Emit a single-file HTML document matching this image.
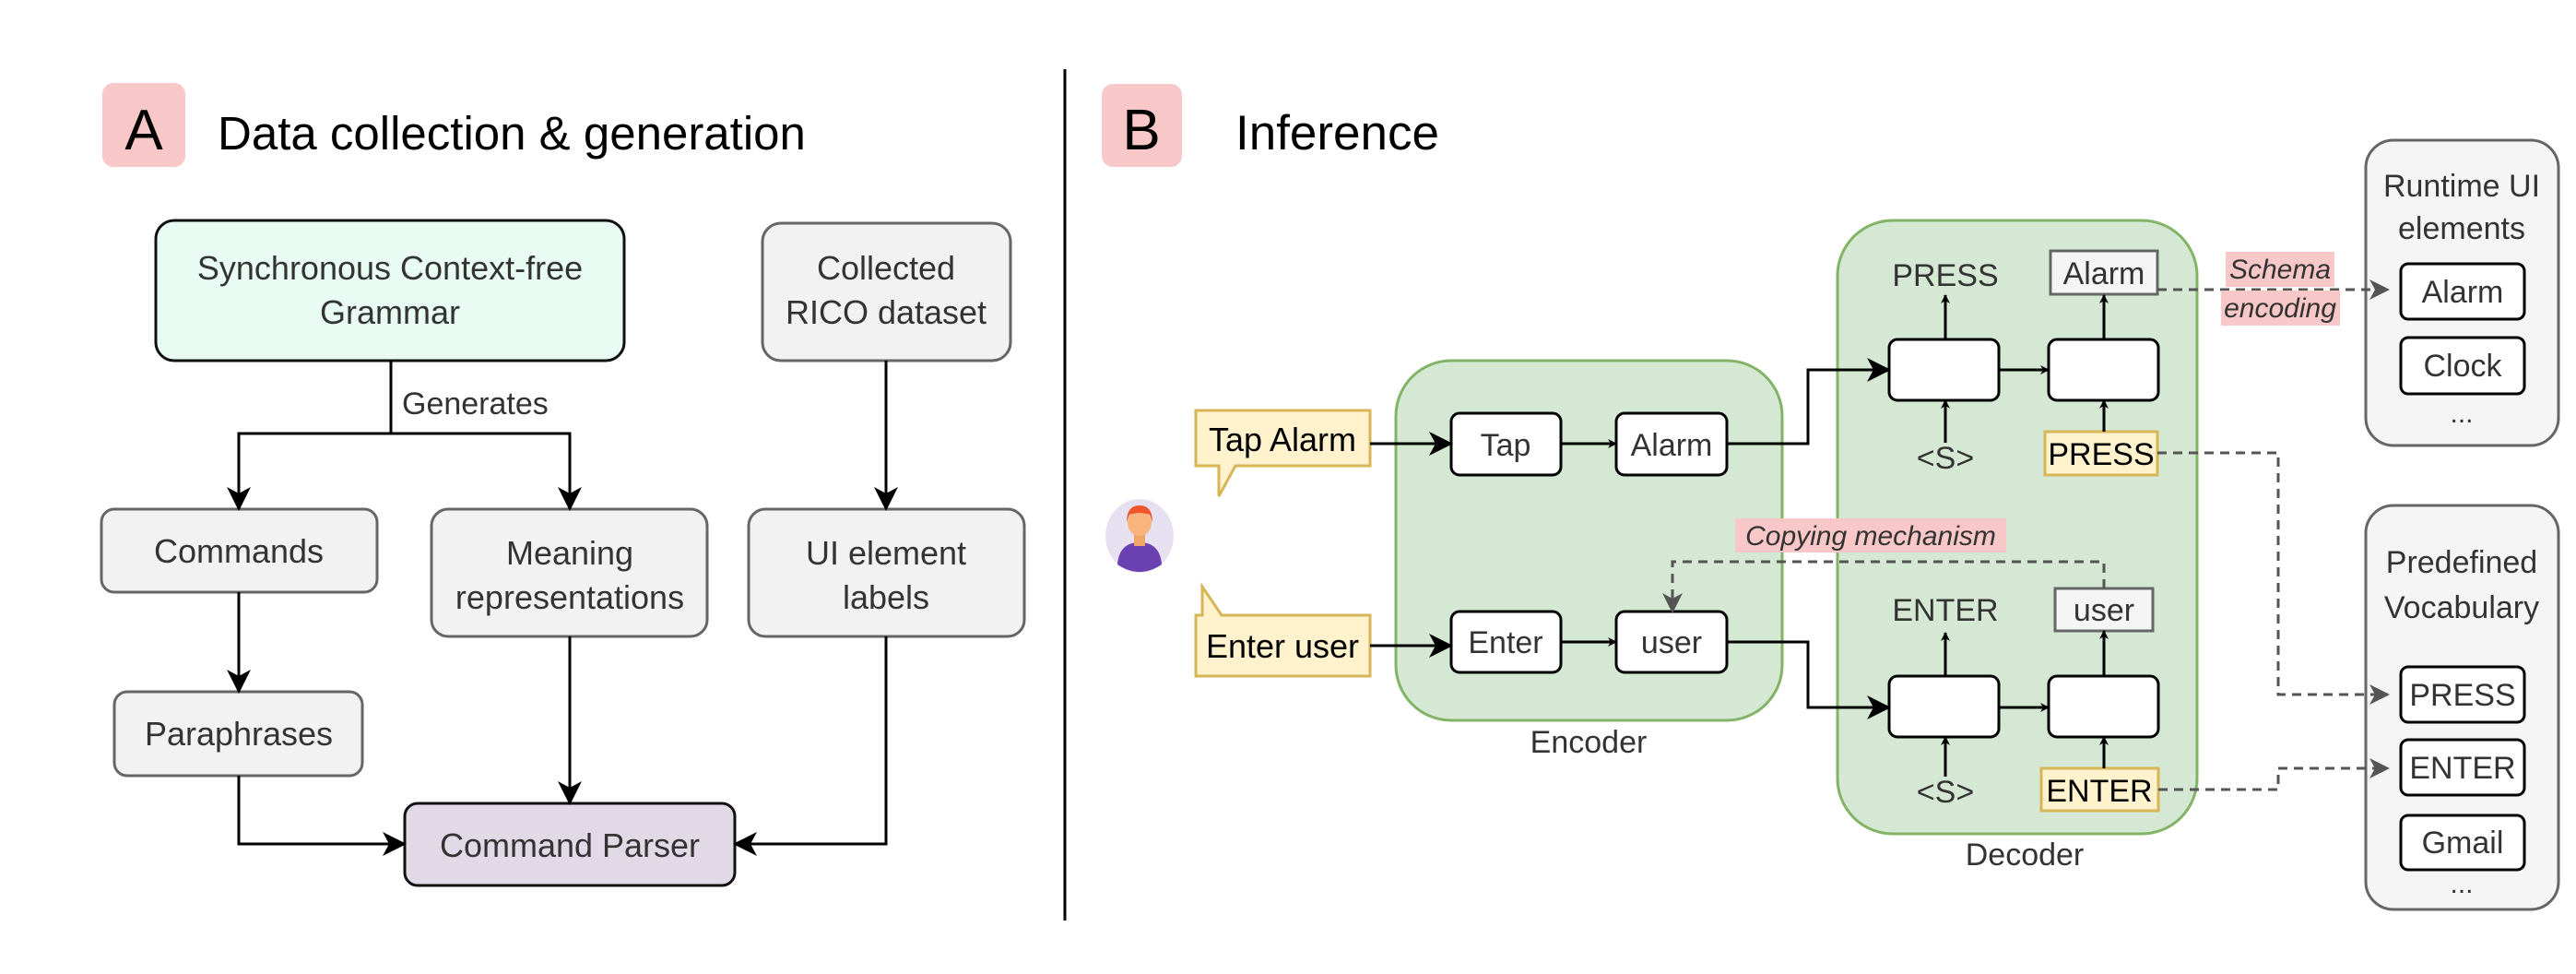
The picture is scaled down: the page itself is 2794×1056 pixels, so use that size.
<!DOCTYPE html>
<html><head><meta charset="utf-8"><style>
html,body{margin:0;padding:0;background:#fff;}
svg{display:block;}
text{font-family:"Liberation Sans",sans-serif;}
</style></head><body>
<svg width="2794" height="1056" viewBox="0 0 2794 1056" xmlns="http://www.w3.org/2000/svg">
<defs>
<marker id="ab" markerWidth="10" markerHeight="10" refX="9" refY="5" orient="auto" markerUnits="userSpaceOnUse" viewBox="0 0 10 10"><path d="M0,0 L10,5 L0,10 L3,5 z" fill="#000"/></marker>
<marker id="abL" markerWidth="26" markerHeight="26" refX="24" refY="13" orient="auto" markerUnits="userSpaceOnUse" viewBox="0 0 26 26"><path d="M0,0 L26,13 L0,26 L7,13 z" fill="#000"/></marker>
<marker id="ag" markerWidth="22" markerHeight="22" refX="20" refY="11" orient="auto" markerUnits="userSpaceOnUse" viewBox="0 0 22 22"><path d="M0,0 L22,11 L0,22 L6,11 z" fill="#555"/></marker>
</defs>

<line x1="1155" y1="75" x2="1155" y2="998" stroke="#000" stroke-width="3"/>

<rect x="111" y="90" width="90" height="91" rx="12" fill="#f8c7c7"/>
<text x="156" y="162" font-size="62" text-anchor="middle" fill="#000">A</text>
<text x="236" y="162" font-size="51" fill="#000">Data collection &amp; generation</text>

<g stroke-width="3" font-size="36" fill="#333">
<rect x="169" y="239" width="508" height="152" rx="20" fill="#e8fcf3" stroke="#111"/>
<text x="423" y="303" text-anchor="middle" fill="#333">Synchronous Context-free</text>
<text x="423" y="351" text-anchor="middle" fill="#333">Grammar</text>

<rect x="827" y="242" width="269" height="149" rx="20" fill="#f2f2f2" stroke="#666"/>
<text x="961" y="303" text-anchor="middle" fill="#333">Collected</text>
<text x="961" y="351" text-anchor="middle" fill="#333">RICO dataset</text>

<rect x="110" y="552" width="299" height="90" rx="14" fill="#f2f2f2" stroke="#666"/>
<text x="259" y="610" text-anchor="middle" fill="#333">Commands</text>

<rect x="468" y="552" width="299" height="138" rx="18" fill="#f2f2f2" stroke="#666"/>
<text x="618" y="612" text-anchor="middle" fill="#333">Meaning</text>
<text x="618" y="660" text-anchor="middle" fill="#333">representations</text>

<rect x="812" y="552" width="299" height="138" rx="18" fill="#f2f2f2" stroke="#666"/>
<text x="961" y="612" text-anchor="middle" fill="#333">UI element</text>
<text x="961" y="660" text-anchor="middle" fill="#333">labels</text>

<rect x="124" y="750" width="269" height="91" rx="14" fill="#f2f2f2" stroke="#666"/>
<text x="259" y="808" text-anchor="middle" fill="#333">Paraphrases</text>

<rect x="439" y="871" width="358" height="89" rx="14" fill="#e1d9e6" stroke="#111"/>
<text x="618" y="929" text-anchor="middle" fill="#333">Command Parser</text>
</g>
<text x="436" y="449" font-size="34" fill="#333">Generates</text>

<g stroke="#000" stroke-width="3" fill="none" marker-end="url(#abL)">
<path d="M424,391 V470 H259 V552"/>
<path d="M424,470 H618 V552"/>
<path d="M961,391 V552"/>
<path d="M259,642 V750"/>
<path d="M618,690 V871"/>
<path d="M259,841 V915 H439"/>
<path d="M961,690 V915 H797"/>
</g>

<rect x="1195" y="91" width="87" height="90" rx="12" fill="#f8c7c7"/>
<text x="1238" y="162" font-size="62" text-anchor="middle" fill="#000">B</text>
<text x="1340" y="162" font-size="53" fill="#000">Inference</text>

<rect x="1514" y="391" width="419" height="390" rx="60" fill="#d5e8d4" stroke="#82b366" stroke-width="3"/>
<rect x="1993" y="239" width="390" height="665" rx="60" fill="#d5e8d4" stroke="#82b366" stroke-width="3"/>
<text x="1723" y="816" font-size="34" text-anchor="middle" fill="#333">Encoder</text>
<text x="2196" y="938" font-size="34" text-anchor="middle" fill="#333">Decoder</text>

<path d="M1297,445 H1486 V505 H1340 L1322,538 L1322,505 H1297 Z" fill="#fff2cc" stroke="#d6b656" stroke-width="3"/>
<text x="1391" y="489" font-size="36" text-anchor="middle" fill="#000">Tap Alarm</text>
<path d="M1297,667 H1304 V636 L1325,667 H1486 V733 H1297 Z" fill="#fff2cc" stroke="#d6b656" stroke-width="3"/>
<text x="1391" y="713" font-size="36" text-anchor="middle" fill="#000">Enter user</text>

<ellipse cx="1236" cy="581" rx="37" ry="40" fill="#e6e0f0"/>
<path d="M1212,612 Q1214,588 1236,588 Q1258,588 1260,612 Q1248,620 1236,620 Q1224,620 1212,612 Z" fill="#6a3fb0"/>
<rect x="1230" y="578" width="12" height="14" fill="#f2a66a"/>
<ellipse cx="1236" cy="567" rx="13" ry="14" fill="#f8b47c"/>
<path d="M1222,566 Q1222,548 1236,548 Q1250,548 1250,566 L1247,558 Q1236,554 1225,558 Z" fill="#f0542a"/>

<g stroke="#000" stroke-width="3" font-size="34">
<rect x="1574" y="448" width="119" height="67" rx="9" fill="#fff"/>
<rect x="1753" y="448" width="120" height="67" rx="9" fill="#fff"/>
<rect x="1574" y="663" width="119" height="66" rx="9" fill="#fff"/>
<rect x="1753" y="663" width="120" height="66" rx="9" fill="#fff"/>
<rect x="2049" y="368" width="119" height="66" rx="9" fill="#fff"/>
<rect x="2222" y="368" width="119" height="66" rx="9" fill="#fff"/>
<rect x="2049" y="733" width="119" height="66" rx="9" fill="#fff"/>
<rect x="2222" y="733" width="119" height="66" rx="9" fill="#fff"/>
</g>
<g font-size="34" text-anchor="middle" fill="#333">
<text x="1633" y="494">Tap</text>
<text x="1813" y="494">Alarm</text>
<text x="1633" y="708">Enter</text>
<text x="1813" y="708">user</text>
<text x="2110" y="310">PRESS</text>
<text x="2110" y="508">&lt;S&gt;</text>
<text x="2110" y="673">ENTER</text>
<text x="2110" y="870">&lt;S&gt;</text>
</g>
<rect x="2224" y="272" width="116" height="47" fill="#f5f5f5" stroke="#666" stroke-width="3"/>
<text x="2282" y="308" font-size="34" text-anchor="middle" fill="#333">Alarm</text>
<rect x="2229" y="638" width="106" height="46" fill="#f5f5f5" stroke="#666" stroke-width="3"/>
<text x="2282" y="673" font-size="34" text-anchor="middle" fill="#333">user</text>
<rect x="2218" y="468" width="122" height="47" fill="#fff2cc" stroke="#d6b656" stroke-width="3"/>
<text x="2279" y="504" font-size="34" text-anchor="middle" fill="#000">PRESS</text>
<rect x="2214" y="833" width="127" height="46" fill="#fff2cc" stroke="#d6b656" stroke-width="3"/>
<text x="2277" y="869" font-size="34" text-anchor="middle" fill="#000">ENTER</text>

<g stroke="#000" stroke-width="3" fill="none">
<path d="M1486,481 H1574" marker-end="url(#abL)"/>
<path d="M1486,700 H1574" marker-end="url(#abL)"/>
<path d="M1693,481 H1753" marker-end="url(#ab)"/>
<path d="M1693,696 H1753" marker-end="url(#ab)"/>
<path d="M1873,481 H1961 V401 H2049" marker-end="url(#abL)"/>
<path d="M1873,696 H1961 V767 H2049" marker-end="url(#abL)"/>
<path d="M2168,401 H2222" marker-end="url(#ab)"/>
<path d="M2168,767 H2222" marker-end="url(#ab)"/>
<path d="M2110,368 V320" marker-end="url(#ab)"/>
<path d="M2282,368 V320" marker-end="url(#ab)"/>
<path d="M2110,480 V434" marker-end="url(#ab)"/>
<path d="M2282,468 V434" marker-end="url(#ab)"/>
<path d="M2110,733 V686" marker-end="url(#ab)"/>
<path d="M2282,733 V684" marker-end="url(#ab)"/>
<path d="M2110,842 V799" marker-end="url(#ab)"/>
<path d="M2282,833 V799" marker-end="url(#ab)"/>
</g>

<rect x="1882" y="562" width="294" height="37" fill="#f8c7c7"/>
<text x="2029" y="591" font-size="30" font-style="italic" text-anchor="middle" fill="#333">Copying mechanism</text>

<rect x="2566" y="152" width="209" height="331" rx="30" fill="#f5f5f5" stroke="#666" stroke-width="3"/>
<text x="2670" y="213" font-size="34" text-anchor="middle" fill="#333">Runtime UI</text>
<text x="2670" y="259" font-size="34" text-anchor="middle" fill="#333">elements</text>
<rect x="2604" y="286" width="134" height="60" rx="8" fill="#fff" stroke="#000" stroke-width="3"/>
<text x="2671" y="328" font-size="34" text-anchor="middle" fill="#333">Alarm</text>
<rect x="2604" y="366" width="134" height="61" rx="8" fill="#fff" stroke="#000" stroke-width="3"/>
<text x="2671" y="408" font-size="34" text-anchor="middle" fill="#333">Clock</text>
<text x="2670" y="458" font-size="30" text-anchor="middle" fill="#333">...</text>

<rect x="2566" y="548" width="209" height="438" rx="30" fill="#f5f5f5" stroke="#666" stroke-width="3"/>
<text x="2670" y="621" font-size="34" text-anchor="middle" fill="#333">Predefined</text>
<text x="2670" y="670" font-size="34" text-anchor="middle" fill="#333">Vocabulary</text>
<rect x="2604" y="723" width="134" height="60" rx="8" fill="#fff" stroke="#000" stroke-width="3"/>
<text x="2671" y="765" font-size="34" text-anchor="middle" fill="#333">PRESS</text>
<rect x="2604" y="802" width="134" height="60" rx="8" fill="#fff" stroke="#000" stroke-width="3"/>
<text x="2671" y="844" font-size="34" text-anchor="middle" fill="#333">ENTER</text>
<rect x="2604" y="884" width="134" height="59" rx="8" fill="#fff" stroke="#000" stroke-width="3"/>
<text x="2671" y="925" font-size="34" text-anchor="middle" fill="#333">Gmail</text>
<text x="2670" y="968" font-size="30" text-anchor="middle" fill="#333">...</text>

<g stroke="#555" stroke-width="3" fill="none" stroke-dasharray="10,7">
<path d="M2282,638 V609 H1814 V663" marker-end="url(#ag)"/>
<path d="M2340,314 H2590" marker-end="url(#ag)"/>
<path d="M2340,491 H2471 V753 H2590" marker-end="url(#ag)"/>
<path d="M2341,856 H2471 V833 H2590" marker-end="url(#ag)"/>
</g>

<rect x="2414" y="273" width="118" height="38" fill="#f8c7c7"/>
<rect x="2409" y="315" width="129" height="38" fill="#f8c7c7"/>
<text x="2473" y="302" font-size="30" font-style="italic" text-anchor="middle" fill="#333">Schema</text>
<text x="2473" y="344" font-size="30" font-style="italic" text-anchor="middle" fill="#333">encoding</text>
</svg>
</body></html>
